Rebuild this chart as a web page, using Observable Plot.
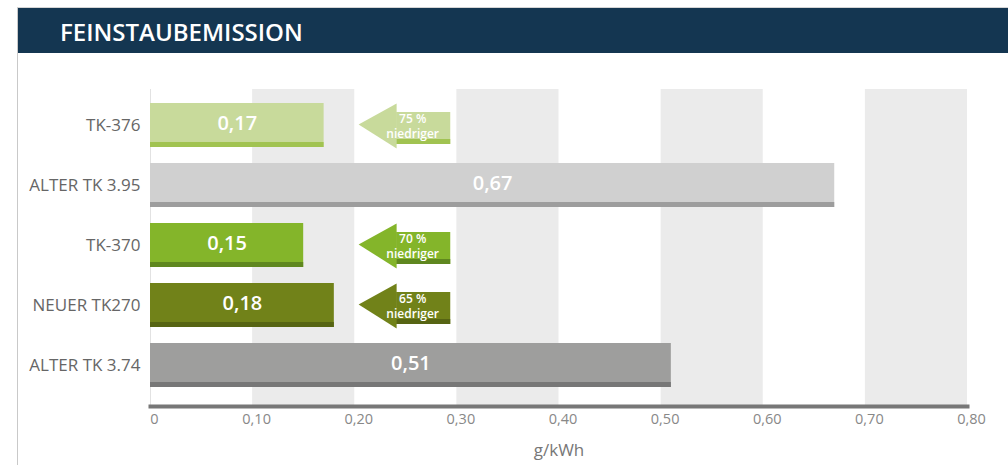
<!DOCTYPE html>
<html><head><meta charset="utf-8">
<script src="https://cdn.jsdelivr.net/npm/d3@7"></script>
<script src="https://cdn.jsdelivr.net/npm/@observablehq/plot@0.6"></script>
<style>
html,body{margin:0;padding:0;background:#fff;}
body{width:1008px;height:465px;overflow:hidden;font-family:"Open Sans",sans-serif;position:relative;}
#box{position:absolute;left:17px;top:7px;width:991px;height:458px;border-left:1px solid #c9c9c9;border-top:1px solid #d5d5d5;}
#hdr{height:45px;background:#143651;color:#fff;font-size:24px;font-weight:600;line-height:47px;padding-left:42px;box-sizing:border-box;}
#chart svg{display:block;}
</style></head><body>
<div id="box"><div id="hdr">FEINSTAUBEMISSION</div><div id="chart"></div></div>
<script>
const categories = ["TK-376", "ALTER TK 3.95", "TK-370", "NEUER TK270", "ALTER TK 3.74"];
const values = [0.17, 0.67, 0.15, 0.18, 0.51];
const barColors = ["#c8da9b", "#d0d0d0", "#84b52a", "#718219", "#9e9e9d"];
const stripeColors = ["#a1c351", "#9d9d9d", "#5f871f", "#566413", "#777777"];
const reductions = [75, null, 70, 65, null];
const xTicks = [0, 0.1, 0.2, 0.3, 0.4, 0.5, 0.6, 0.7, 0.8];
const bandStarts = [0.1, 0.3, 0.5, 0.7];
const arrowBase = 0.241, arrowEnd = 0.294;
const unitLabel = "g/kWh";
const reductionWord = "niedriger";

const fmt = v => v === 0 ? "0" : v.toFixed(2).replace(".", ",");
const rows = categories.map((c, i) => ({cat: c, value: values[i], fill: barColors[i], stripe: stripeColors[i], red: reductions[i]}));
const arrowRows = rows.filter(d => d.red != null);

const leftHead = {
  draw(ctx) {
    ctx.moveTo(-38, -1);
    ctx.lineTo(0, -22);
    ctx.lineTo(0, 23);
    ctx.closePath();
  }
};

const chart = Plot.plot({
  width: 990,
  height: 412,
  marginLeft: 132,
  marginRight: 41,
  marginTop: 36,
  marginBottom: 59,
  style: {fontFamily: "'Open Sans', sans-serif", background: "transparent"},
  x: {domain: [0, 0.8], axis: null},
  y: {domain: categories, paddingInner: 0.273, paddingOuter: 0.256, align: 0.42, axis: null},
  color: {type: "identity"},
  marks: [
    Plot.rect(bandStarts, {x1: d => d, x2: d => d + 0.1, fill: "#ebebeb"}),
    Plot.ruleX([0], {stroke: "#e2e2e2", strokeWidth: 1}),
    Plot.barX(rows, {x: "value", y: "cat", fill: "fill"}),
    Plot.barX(rows, {x: "value", y: "cat", fill: "stripe", insetTop: 39}),
    Plot.text(rows, {x: d => d.value / 2, y: "cat", text: d => fmt(d.value), fill: "white", fontSize: 20, fontWeight: 600, dy: -2}),
    Plot.barX(arrowRows, {x1: () => arrowBase, x2: () => arrowEnd, y: "cat", fill: "fill", insetTop: 9, insetBottom: 3}),
    Plot.barX(arrowRows, {x1: () => arrowBase, x2: () => arrowEnd, y: "cat", fill: "stripe", insetTop: 36, insetBottom: 3}),
    Plot.dot(arrowRows, {x: () => arrowBase, y: "cat", fill: "fill", symbol: leftHead}),
    Plot.text(arrowRows, {x: () => (arrowBase + arrowEnd) / 2, y: "cat", text: d => d.red + " %", fill: "white", fontSize: 12, fontWeight: 600, dx: -11, dy: -6}),
    Plot.text(arrowRows, {x: () => (arrowBase + arrowEnd) / 2, y: "cat", text: () => reductionWord, fill: "white", fontSize: 12, fontWeight: 600, dx: -11, dy: 9}),
    Plot.axisY({domain: categories, tickSize: 0, tickPadding: 10, fontSize: 17, color: "#666", label: null}),
    Plot.axisX({ticks: xTicks, tickFormat: fmt, tickSize: 0, tickPadding: 7, fontSize: 14.5, color: "#888", label: null, dx: 4}),
    Plot.frame({anchor: "bottom", stroke: "#777", strokeWidth: 4}),
    Plot.text([unitLabel], {frameAnchor: "bottom", text: d => d, dy: 49, fontSize: 17, fill: "#777"})
  ]
});
document.getElementById("chart").appendChild(chart);
</script></body></html>
